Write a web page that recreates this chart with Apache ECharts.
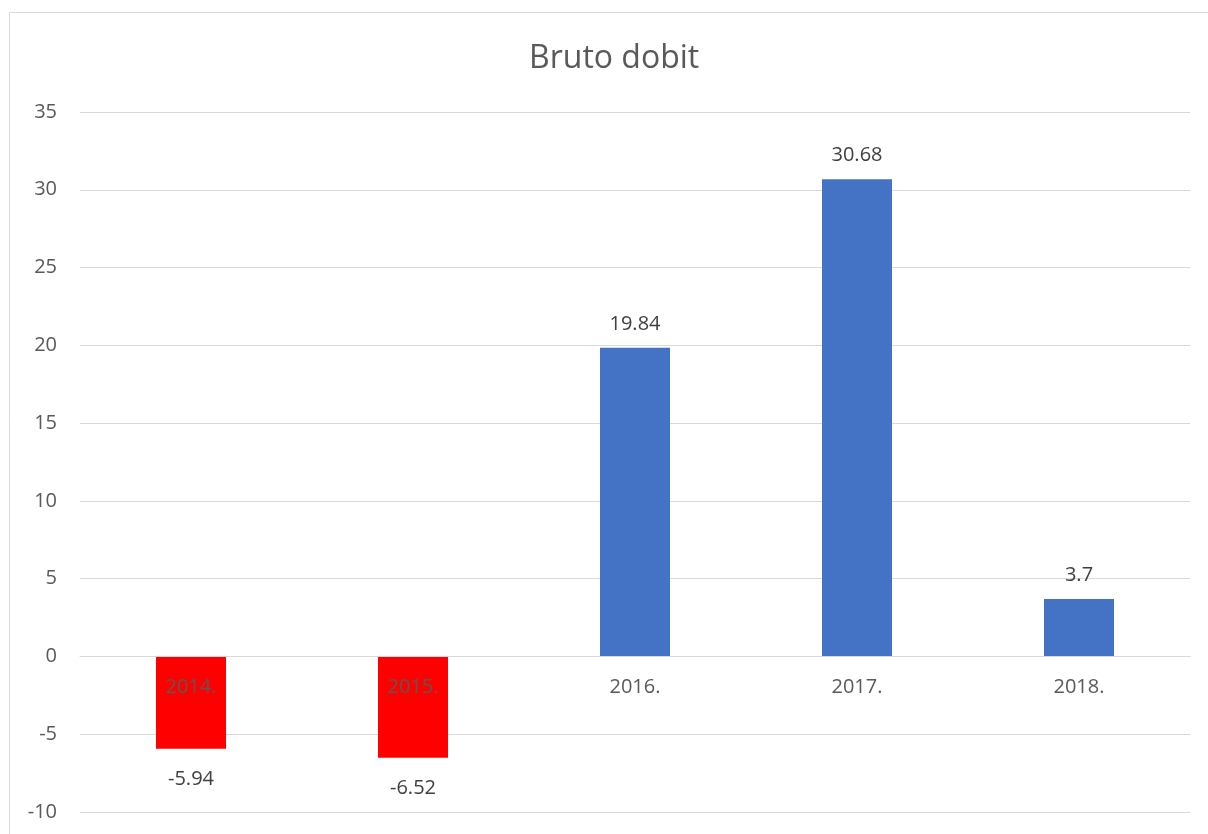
<!DOCTYPE html>
<html>
<head>
<meta charset="utf-8">
<script src="https://cdn.jsdelivr.net/npm/echarts@6/dist/echarts.min.js"></script>
<style>
html,body{margin:0;padding:0;background:#fff;}
#chart{width:1208px;height:834px;}
</style>
</head>
<body>
<div id="chart"></div>
<script>
const title = 'Bruto dobit';
const categories = ['2014.', '2015.', '2016.', '2017.', '2018.'];
const values = [-5.94, -6.52, 19.84, 30.68, 3.7];
const yMin = -10, yMax = 35, yStep = 5;

const gridTop = 112, gridBottom = 22, H = 834;
const plotH = H - gridTop - gridBottom;
const zeroOffset = -((0 - yMin) / (yMax - yMin)) * plotH;

const chart = echarts.init(document.getElementById('chart'));
const font = '"Open Sans", "Noto Sans", sans-serif';

chart.setOption({
  animation: false,
  backgroundColor: '#ffffff',
  title: {
    text: title,
    left: 524,
    top: 38,
    textStyle: { fontFamily: font, fontSize: 32, fontWeight: 'normal', color: '#595959' }
  },
  graphic: [{
    type: 'rect',
    shape: { x: 9.5, y: 12.5, width: 1300, height: 900 },
    style: { fill: 'none', stroke: '#d9d9d9', lineWidth: 1 },
    silent: true
  }],
  grid: { left: 80, right: 18, top: gridTop, bottom: gridBottom, containLabel: false, outerBoundsMode: 'none' },
  xAxis: {
    type: 'category',
    data: categories,
    z: 10,
    offset: zeroOffset,
    axisLine: { show: true, onZero: false, lineStyle: { color: '#d9d9d9', width: 1 } },
    axisTick: { show: false },
    axisLabel: { margin: 21, fontFamily: font, fontSize: 20, color: '#595959' },
    splitLine: { show: false }
  },
  yAxis: {
    type: 'value',
    min: yMin,
    max: yMax,
    interval: yStep,
    axisLine: { show: false },
    axisTick: { show: false },
    axisLabel: { margin: 23, fontFamily: font, fontSize: 20, color: '#595959' },
    splitLine: { show: true, lineStyle: { color: '#d9d9d9', width: 1 } }
  },
  series: [{
    type: 'bar',
    barWidth: 70,
    data: values.map(v => ({
      value: v,
      itemStyle: { color: v < 0 ? '#ff0000' : '#4472c4' },
      label: { position: v < 0 ? 'bottom' : 'top', distance: v < 0 ? 20 : 14 }
    })),
    label: {
      show: true,
      position: 'top',
      fontFamily: font,
      fontSize: 20,
      color: '#404040'
    }
  }]
});
</script>
</body>
</html>
